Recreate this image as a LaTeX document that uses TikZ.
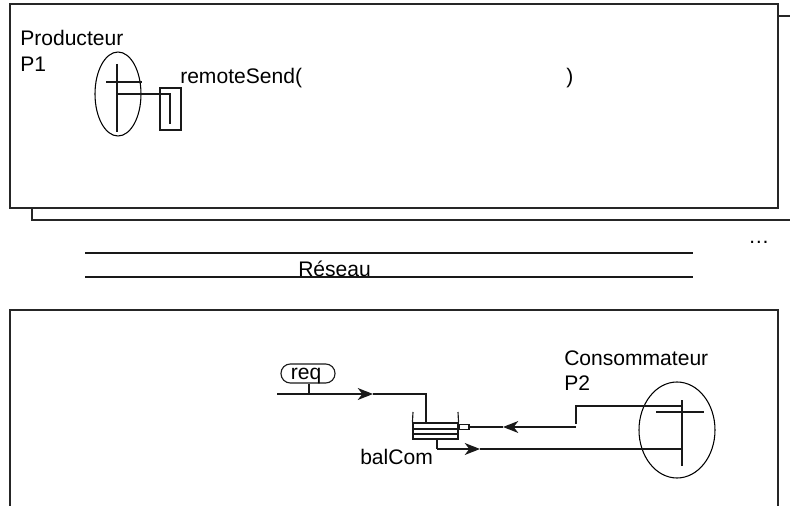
\documentclass[tikz,border=0pt]{standalone}
\usepackage{fontspec}
\setmainfont{Liberation Sans}
\usetikzlibrary{arrows.meta,shapes.geometric}
\tikzset{
  wire/.style={draw=black!90,line width=0.85pt},
  frame/.style={draw=black!85,line width=1pt},
  flow/.style={wire,-{Stealth[length=11.5pt,width=9pt,inset=3.5pt]}},
  lab/.style={anchor=base west,inner sep=0pt,font=\fontsize{15.8pt}{18pt}\selectfont},
  proc/.style={ellipse,draw=black,line width=0.8pt,inner sep=0pt},
  boxy/.style={rectangle,draw=black!90,line width=0.85pt,inner sep=0pt},
}
\begin{document}
\begin{tikzpicture}[x=0.75pt,y=-0.75pt]
\useasboundingbox (0,0) rectangle (790,506);
% frames
\node[frame,rectangle,inner sep=0pt,minimum width=576pt,minimum height=153pt] (top) at (394,106) {};
\coordinate (s1) at (32,208); \coordinate (s2) at (32,220); \coordinate (s3) at (790,220);
\draw[frame] (s1) -- (s2) -- (s3);
\coordinate (s4) at (778,16); \coordinate (s5) at (790,16);
\draw[frame] (s4) -- (s5);
\coordinate (b1) at (10,506); \coordinate (b2) at (10,310); \coordinate (b3) at (778,310); \coordinate (b4) at (778,506);
\draw[frame] (b1) -- (b2) -- (b3) -- (b4);
% network
\coordinate (n1) at (85,253); \coordinate (n2) at (693,253);
\coordinate (n3) at (85,277); \coordinate (n4) at (693,277);
\draw[wire] (n1) -- (n2);
\draw[wire] (n3) -- (n4);
\node[lab] (reseau) at (298,277) {Réseau};
\node[lab] (dots) at (748,243.5) {…};
% producer
\node[lab] (prod) at (20,46) {Producteur};
\node[lab] (p1) at (20,72) {P1};
\node[lab] (rs) at (180,84) {remoteSend(};
\node[lab] (rp) at (566,84) {)};
\node[proc,minimum width=34.5pt,minimum height=63pt] (e1) at (118,94) {};
\coordinate (v1) at (117,64); \coordinate (v2) at (117,132);
\coordinate (h1) at (106,82); \coordinate (h2) at (142,82);
\coordinate (c1) at (117,94); \coordinate (c2) at (170,94); \coordinate (c3) at (170,124);
\draw[wire] (v1) -- (v2);
\draw[wire] (h1) -- (h2);
\draw[wire] (c1) -- (c2) -- (c3);
\node[boxy,minimum width=15.75pt,minimum height=31.5pt] (send) at (170.5,109) {};
% req
\node[boxy,rounded corners=7pt,minimum width=40.5pt,minimum height=14.25pt] (req) at (308,373.5) {};
\node[lab,anchor=base] (reqt) at (306,379) {req};
\coordinate (r0) at (277,394); \coordinate (r1) at (309,394); \coordinate (r2) at (373,394);
\coordinate (r3) at (426,394); \coordinate (r4) at (426,423);
\draw[wire] (req.south -| r1) -- (r1);
\draw[flow] (r0) -- (r2);
\draw[wire] (r2) -- (r3) -- (r4);
% queue
\coordinate (q0) at (413,412); \coordinate (q1) at (458,412);
\node[boxy,minimum width=33.75pt,minimum height=12pt] (queue) at (435.5,431) {};
\draw[wire] (q0) -- (queue.north west);
\draw[wire] (q1) -- (queue.north east);
\coordinate (q2) at (413,429); \coordinate (q3) at (458,429);
\coordinate (q4) at (413,434); \coordinate (q5) at (458,434);
\draw[wire] (q2) -- (q3);
\draw[wire] (q4) -- (q5);
\node[boxy,minimum width=7.5pt,minimum height=3.75pt] (port) at (464,427) {};
\node[lab] (bal) at (360,464) {balCom};
% consumer
\node[lab] (cons) at (564,365) {Consommateur};
\node[lab] (p2) at (564,391) {P2};
\node[proc,minimum width=57pt,minimum height=72pt] (e2) at (677,430) {};
\coordinate (w1) at (682,400); \coordinate (w2) at (682,466);
\coordinate (x1) at (656,412); \coordinate (x2) at (704,412);
\draw[wire] (w1) -- (w2);
\draw[wire] (x1) -- (x2);
\coordinate (t1) at (682,406); \coordinate (t2) at (576,406); \coordinate (t3) at (576,424);
\coordinate (t4) at (576,427); \coordinate (t5) at (503,427);
\draw[wire] (t1) -- (t2) -- (t3);
\draw[flow] (t4) -- (t5);
\draw[wire] (t5) -- (port.east);
\coordinate (l1) at (437,437); \coordinate (l2) at (437,449); \coordinate (l3) at (480,449); \coordinate (l4) at (682,449);
\draw[wire] (queue.south -| l1) -- (l2);
\draw[flow] (l2) -- (l3);
\draw[wire] (l3) -- (l4);
\end{tikzpicture}
\end{document}
